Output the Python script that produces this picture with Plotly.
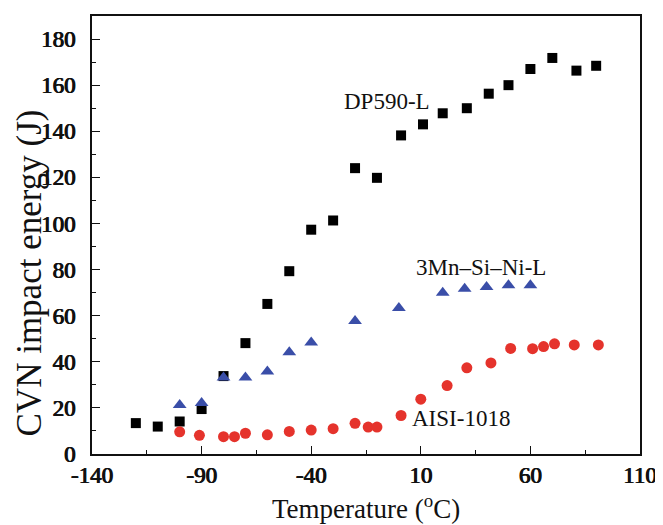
import plotly.graph_objects as go

# DP590-L (black squares)
dp_x = [-120, -110, -100, -90, -80, -70, -60, -50, -40, -30, -20, -10, 1, 11, 20, 31, 41, 50, 60, 70, 81, 90]
dp_y = [13.4, 11.9, 14.1, 19.5, 33.8, 48.1, 65.1, 79.3, 97.3, 101.3, 124.0, 119.8, 138.2, 143.0, 147.8, 150.0, 156.3, 160.0, 167.0, 171.8, 166.3, 168.4]

# 3Mn-Si-Ni-L (blue triangles)
mn_x = [-100, -90, -80, -70, -60, -50, -40, -20, 0, 20, 30, 40, 50, 60]
mn_y = [21.3, 22.1, 33.2, 33.2, 35.8, 44.1, 48.4, 57.7, 63.3, 70.0, 71.7, 72.4, 73.2, 73.2]

# AISI-1018 (red circles)
ai_x = [-100, -91, -80, -75, -70, -60, -50, -40, -30, -20, -14, -10, 1, 10, 22, 31, 42, 51, 61, 66, 71, 80, 91]
ai_y = [9.6, 8.1, 7.5, 7.5, 9.0, 8.3, 9.8, 10.4, 11.0, 13.3, 11.7, 11.7, 16.7, 23.8, 29.7, 37.4, 39.5, 45.8, 45.7, 46.6, 47.8, 47.3, 47.3]

x_ticks = [-140, -90, -40, 10, 60, 110]
y_ticks = [0, 20, 40, 60, 80, 100, 120, 140, 160, 180]

labels = ["DP590-L", "3Mn–Si–Ni-L", "AISI-1018"]
label_x = [-5.5, 37.5, 28.4]
label_y = [152.8, 80.9, 15.3]

x_title = "Temperature (<sup>o</sup>C)"
y_title = "CVN impact energy (J)"

serif = "Liberation Serif"
ink = "#111111"
fake_bold = "0.7px 0 0 #111111, -0.3px 0 0 #111111"

fig = go.Figure()
fig.add_trace(go.Scatter(x=dp_x, y=dp_y, mode="markers", name="DP590-L",
                         marker=dict(symbol="square", size=10, color="#000000")))
fig.add_trace(go.Scatter(x=mn_x, y=mn_y, mode="markers", name="3Mn–Si–Ni-L",
                         marker=dict(symbol="triangle-up", size=12, color="#3a4ea8")))
fig.add_trace(go.Scatter(x=ai_x, y=ai_y, mode="markers", name="AISI-1018",
                         marker=dict(symbol="circle", size=11, color="#e5332c")))

for t, x, y in zip(labels, label_x, label_y):
    fig.add_annotation(x=x, y=y, text=t, showarrow=False, xref="x", yref="y",
                       font=dict(family=serif, size=23, color=ink))

fig.add_annotation(x=0.5, y=-0.1205, xref="paper", yref="paper", text=x_title,
                   showarrow=False, xanchor="center", yanchor="middle",
                   font=dict(family=serif, size=27, color=ink))
fig.add_annotation(x=-0.1135, y=0.414, xref="paper", yref="paper", text=y_title,
                   showarrow=False, xanchor="center", yanchor="middle", textangle=-90,
                   font=dict(family=serif, size=35, color=ink))

# page body has an 8px default margin, so the figure is shrunk/shifted to fit the 663x525 window
fig.update_layout(
    width=655, height=517,
    margin=dict(l=84, r=21, t=6, b=71),
    paper_bgcolor="white", plot_bgcolor="white",
    showlegend=False,
    font=dict(family=serif, color=ink),
)
fig.update_xaxes(
    range=[-140, 110], tickvals=x_ticks, ticktext=[str(v) for v in x_ticks],
    ticks="inside", ticklen=8, tickwidth=1.3, tickcolor=ink,
    minor=dict(dtick=25, tick0=-140, ticks="inside", ticklen=4, tickwidth=1.2, tickcolor=ink),
    showline=True, linecolor=ink, linewidth=1.6, mirror=True,
    showgrid=False, zeroline=False,
    tickfont=dict(family=serif, size=23, color=ink, shadow=fake_bold),
    ticklabelstandoff=0,
)
fig.update_yaxes(
    range=[0, 190], tickvals=y_ticks, ticktext=[str(v) for v in y_ticks],
    ticks="inside", ticklen=8, tickwidth=1.3, tickcolor=ink,
    minor=dict(dtick=10, tick0=0, ticks="inside", ticklen=4, tickwidth=1.2, tickcolor=ink),
    showline=True, linecolor=ink, linewidth=1.6, mirror=True,
    showgrid=False, zeroline=False,
    tickfont=dict(family=serif, size=23, color=ink, shadow=fake_bold),
    ticklabelstandoff=10,
)

fig.write_html("out.html")
